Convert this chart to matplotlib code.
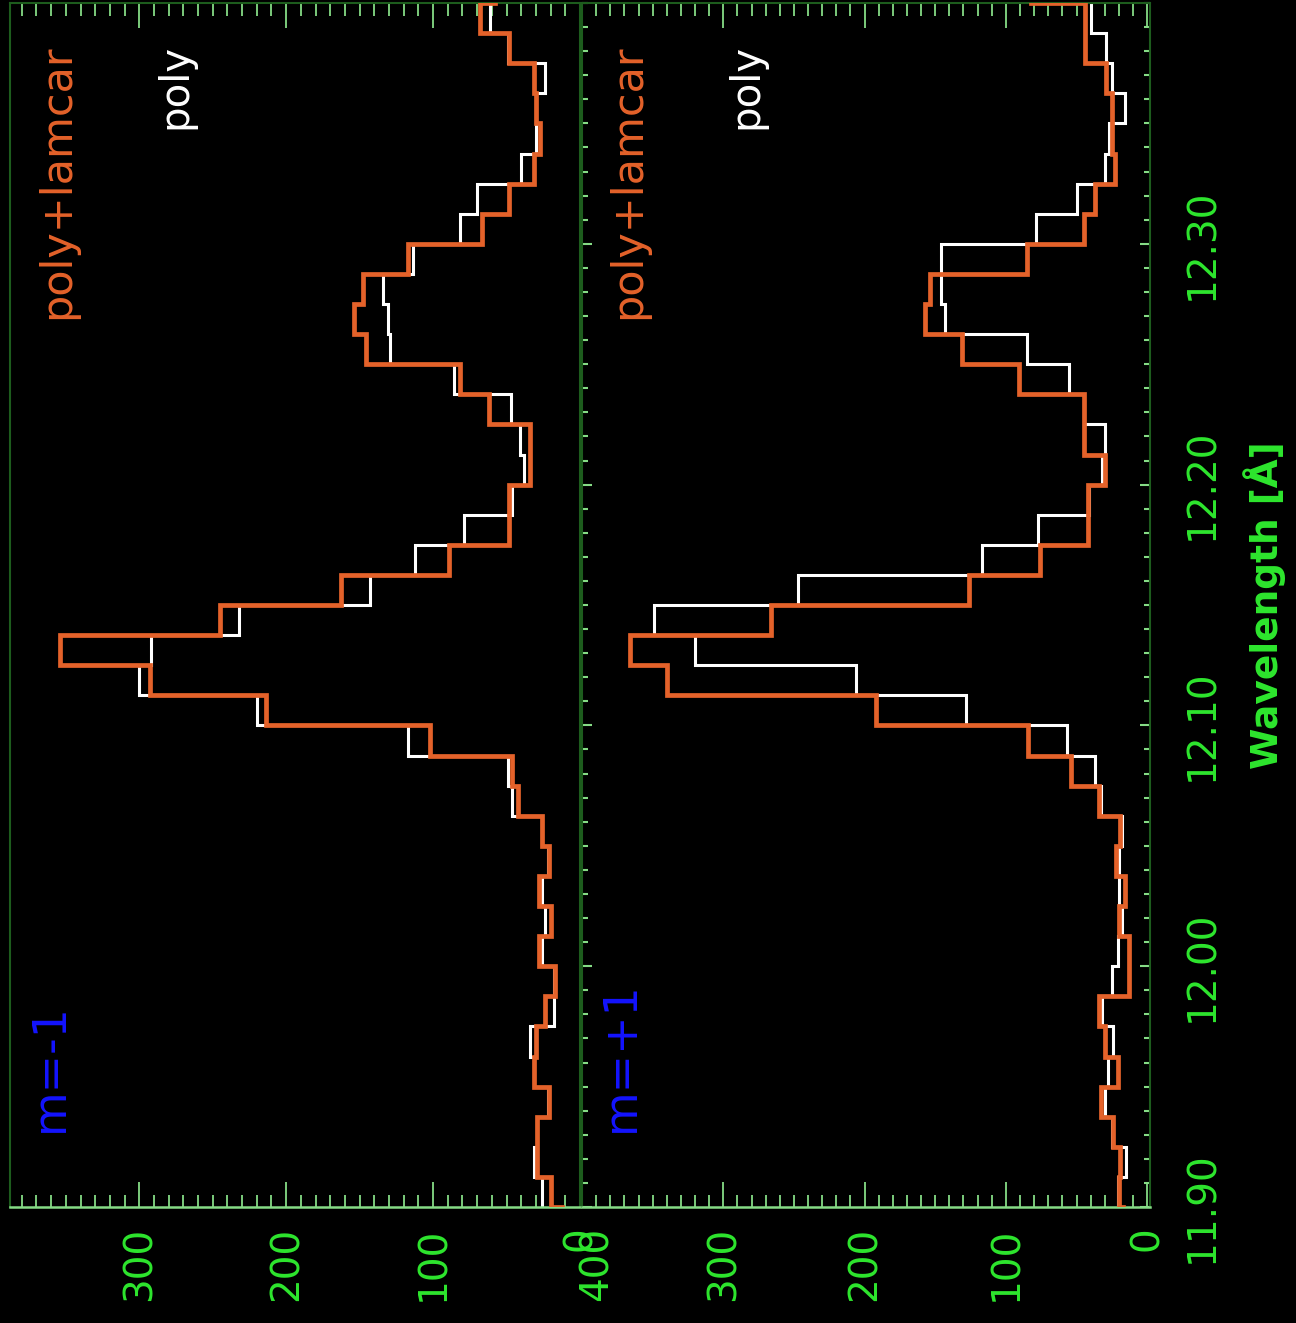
import matplotlib
matplotlib.use("Agg")
import matplotlib.pyplot as plt
from matplotlib.ticker import MultipleLocator, FixedLocator, FuncFormatter
from matplotlib.transforms import offset_copy
import numpy as np

# ── Data: counts per 0.0125 A wavelength bin (first/last bins fall just outside the axes) ──
WL_START = 11.8875
BIN_WIDTH = 0.0125

minus1_lamcar = [12, 20, 29, 29, 21, 31, 30, 24, 17, 28, 20,
                 28, 21, 26, 42, 46, 102, 214, 293, 354, 245,
                 163, 89, 48, 48, 34, 34, 62, 82, 146, 154,
                 148, 117, 67, 48, 31, 27, 30, 31, 48, 68, 58]
minus1_poly = [26, 26, 31, 29, 22, 31, 34, 18, 18, 26, 24,
               26, 22, 26, 46, 49, 117, 220, 300, 292, 232,
               143, 112, 79, 46, 38, 41, 47, 86, 129, 131,
               134, 114, 82, 70, 40, 30, 30, 24, 49, 61, 61]
plus1_lamcar = [17, 20, 19, 24, 33, 21, 30, 34, 13, 13, 20,
                16, 22, 19, 34, 54, 84, 192, 340, 366, 266,
                126, 76, 42, 42, 30, 45, 45, 91, 131, 157,
                154, 85, 45, 37, 23, 25, 25, 29, 44, 44, 82]
plus1_poly = [21, 21, 15, 25, 30, 28, 24, 32, 25, 21, 18,
              20, 20, 18, 33, 37, 57, 128, 206, 320, 349,
              247, 117, 77, 41, 32, 30, 45, 55, 85, 143,
              146, 146, 79, 50, 30, 27, 16, 25, 29, 40, 40]

wl_ticks = [11.90, 12.00, 12.10, 12.20, 12.30]

panels = [
    ("m=-1", minus1_lamcar, minus1_poly, (388, 0)),
    ("m=+1", plus1_lamcar, plus1_poly, (400, -2)),
]

edges = WL_START + BIN_WIDTH * np.arange(len(minus1_poly) + 1)

# ── Style ─────────────────────────────────────────────────────────────────────
BG = "black"
ORANGE = "#e4622a"
LABEL_GREEN = "#2ee62e"
TICK_GREEN = "#86dc86"
DARK_GREEN = "#1d5c1d"
BLUE = "#1414ff"
TICK_FS = 28

W, H = 1296, 1323
fig = plt.figure(figsize=(W / 100, H / 100), dpi=100, facecolor=BG)

# panel boxes in pixels (the whole plot is rotated: wavelength runs upward)
boxes = [(10, 580), (582, 1150)]
YTOP, YBOT = 3, 1207

for i, ((name, lamcar, poly, xlim), (x0, x1)) in enumerate(zip(panels, boxes)):
    ax = fig.add_axes([x0 / W, (H - YBOT) / H, (x1 - x0) / W, (YBOT - YTOP) / H])
    ax.set_facecolor(BG)

    ax.stairs(poly, edges, orientation="horizontal", baseline=None,
              color="white", lw=2.2, zorder=2)
    ax.stairs(lamcar, edges, orientation="horizontal", baseline=None,
              color=ORANGE, lw=3.4, zorder=3)

    ax.set_xlim(*xlim)
    ax.set_ylim(11.90, 12.40)

    # counts axis (horizontal, ticks at bottom and top)
    ax.xaxis.set_major_locator(MultipleLocator(100))
    ax.xaxis.set_minor_locator(MultipleLocator(10))
    ax.tick_params(axis="x", which="major", direction="in", length=18, width=1.3,
                   color=TICK_GREEN, top=True, bottom=True, labelsize=TICK_FS,
                   labelcolor=LABEL_GREEN, labelrotation=90, pad=14)
    ax.tick_params(axis="x", which="minor", direction="in", length=9, width=1.3,
                   color=TICK_GREEN, top=True, bottom=True)

    if i == 1:
        # the "400" label sits a little right of its tick, over the "0" of the left panel
        ax.xaxis.set_major_formatter(FuncFormatter(
            lambda v, p: "" if v > 399 else f"{v:.0f}"))
        ax.text(400, 0, "400", rotation=90, ha="center", va="top",
                color=LABEL_GREEN, fontsize=TICK_FS,
                transform=offset_copy(ax.get_xaxis_transform(), fig=fig,
                                      x=15, y=-20, units="dots"))

    # wavelength axis (vertical)
    ax.yaxis.set_major_locator(FixedLocator(wl_ticks))
    ax.yaxis.set_minor_locator(MultipleLocator(0.01))
    if i == 1:
        ax.yaxis.set_major_formatter(FuncFormatter(lambda v, p: f"{v:.2f}"))
        ax.tick_params(axis="y", which="major", direction="in", length=7, width=1.5,
                       color=TICK_GREEN, left=True, right=True, labelleft=False,
                       labelright=True, labelsize=TICK_FS, labelcolor=LABEL_GREEN,
                       labelrotation=90, pad=24)
        ax.tick_params(axis="y", which="minor", direction="in", length=4, width=1.5,
                       color=TICK_GREEN, left=True, right=True)
        plt.setp(ax.get_yticklabels(), va="center")
        ax.yaxis.set_label_position("right")
        ax.set_ylabel("Wavelength [Å]", color=LABEL_GREEN, fontsize=27,
                      fontweight="bold", rotation=90, labelpad=16)
    else:
        ax.tick_params(axis="y", which="both", left=False, right=False,
                       labelleft=False, labelright=False)

    for side in ("left", "right", "top"):
        ax.spines[side].set_color(DARK_GREEN)
        ax.spines[side].set_linewidth(1.5)
    ax.spines["bottom"].set_color(TICK_GREEN)
    ax.spines["bottom"].set_linewidth(1.8)

    # labels inside the panel, reading bottom to top
    ax.text(0.07, 0.062, name, transform=ax.transAxes, rotation=90,
            ha="center", va="bottom", color=BLUE, fontsize=33)
    ax.text(0.082, 0.966, "poly+lamcar", transform=ax.transAxes, rotation=90,
            ha="center", va="top", color=ORANGE, fontsize=31)
    ax.text(0.29, 0.966, "poly", transform=ax.transAxes, rotation=90,
            ha="center", va="top", color="white", fontsize=29)

plt.savefig("out.png", dpi=100, facecolor=BG)
plt.close()
